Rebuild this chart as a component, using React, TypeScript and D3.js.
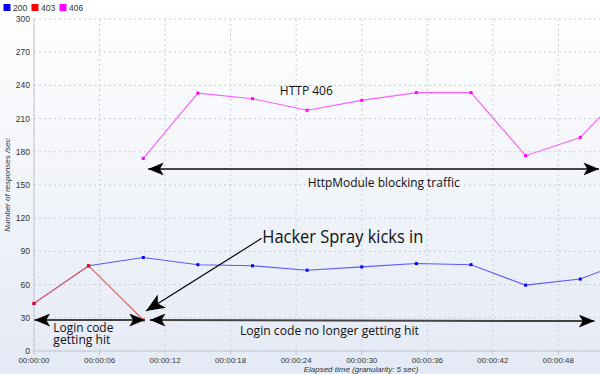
import React from 'react';
import * as d3 from 'd3';

// ---- data ----
const times = [0, 5, 10, 15, 20, 25, 30, 35, 40, 45, 50, 55];
const s200: (number | null)[] = [43, 77, 84.5, 78, 77, 73, 76, 79, 78, 59.5, 65, 84];
const s403: (number | null)[] = [43, 77, 28, null, null, null, null, null, null, null, null, null];
const s406: (number | null)[] = [null, null, 174, 233, 228, 217.5, 226.5, 233.5, 233.5, 176.5, 193, 244];
const seriesNames = ['200', '403', '406'];
const seriesLineColors = ['#5a5aff', '#f25c5c', '#ff5cff'];
const seriesPointColors = ['#0000ff', '#ff0000', '#ff00ff'];
const yTicks = [0, 30, 60, 90, 120, 150, 180, 210, 240, 270, 300];
const xTicks = [0, 6, 12, 18, 24, 30, 36, 42, 48];
const fmtTime = (s: number) => `00:00:${String(s).padStart(2, '0')}`;

const W = 600, H = 374;
const left = 34, right = 600, top = 19, bottom = 351;

export default function App() {
  const x = d3.scaleLinear().domain([0, (right - left) / 10.925]).range([left, right]);
  const y = d3.scaleLinear().domain([0, 300]).range([bottom, top]);
  const allSeries = [s200, s403, s406];

  const line = d3.line<[number, number | null]>()
    .defined(d => d[1] != null)
    .x(d => x(d[0]))
    .y(d => y(d[1] as number));

  const font = 'Liberation Sans, Arial, sans-serif';
  const annFont = 'Open Sans, Noto Sans, sans-serif';

  const arrowLine = (x1: number, y1: number, x2: number, y2: number, startHead: boolean, endHead: boolean, key: string) => (
    <line key={key} x1={x1} y1={y1} x2={x2} y2={y2} stroke="#444" strokeWidth={2}
      markerStart={startHead ? 'url(#ahStart)' : undefined}
      markerEnd={endHead ? 'url(#ahEnd)' : undefined} />
  );

  return (
    <div style={{ position: 'absolute', left: 0, top: 0 }}>
      <svg width={W} height={H} style={{ display: 'block' }}>
        <defs>
          <linearGradient id="bg" x1="0" y1="0" x2="0" y2="1">
            <stop offset="0" stopColor="#ffffff" />
            <stop offset="1" stopColor="#e4eaf5" />
          </linearGradient>
          <clipPath id="plot">
            <rect x={left - 2} y={top - 4} width={right - left + 2} height={bottom - top + 8} />
          </clipPath>
          <marker id="ahEnd" viewBox="0 0 12 10" refX="12" refY="5" markerWidth="8" markerHeight="6.5" orient="auto" markerUnits="strokeWidth">
            <path d="M0,0 L12,5 L0,10 L3,5 Z" fill="#000" />
          </marker>
          <marker id="ahStart" viewBox="0 0 12 10" refX="0" refY="5" markerWidth="8" markerHeight="6.5" orient="auto" markerUnits="strokeWidth">
            <path d="M12,0 L0,5 L12,10 L9,5 Z" fill="#000" />
          </marker>
          <marker id="ahThin" viewBox="0 0 12 10" refX="12" refY="5" markerWidth="16" markerHeight="13" orient="auto" markerUnits="strokeWidth">
            <path d="M0,0 L12,5 L0,10 L3,5 Z" fill="#000" />
          </marker>
        </defs>
        <rect x={0} y={0} width={W} height={H} fill="url(#bg)" />

        {/* grid */}
        {yTicks.map(t => (
          <line key={'gy' + t} x1={left} x2={right} y1={y(t)} y2={y(t)} stroke="#c9ccd4" strokeDasharray="2,3" />
        ))}
        {xTicks.map(t => (
          <line key={'gx' + t} x1={x(t)} x2={x(t)} y1={top} y2={bottom} stroke="#c9ccd4" strokeDasharray="2,3" />
        ))}

        {/* axes */}
        <line x1={left} x2={left} y1={top} y2={bottom} stroke="#c4c8d2" />
        <line x1={left} x2={right} y1={bottom} y2={bottom} stroke="#c4c8d2" />
        {xTicks.map(t => (
          <line key={'tx' + t} x1={x(t)} x2={x(t)} y1={bottom} y2={bottom + 4} stroke="#c4c8d2" />
        ))}
        {yTicks.map(t => (
          <text key={'ly' + t} x={left - 4} y={y(t) + 3} textAnchor="end" fontFamily={font} fontSize={8.5} fill="#333">{t}</text>
        ))}
        {xTicks.map(t => (
          <text key={'lx' + t} x={x(t)} y={bottom + 12} textAnchor="middle" fontFamily={font} fontSize={8} fill="#333">{fmtTime(t)}</text>
        ))}
        <text transform={`translate(10,${(top + bottom) / 2}) rotate(-90)`} textAnchor="middle" fontFamily={font} fontSize={8} fontStyle="italic" fill="#333">Number of responses /sec</text>
        <text x={361} y={372} textAnchor="middle" fontFamily={font} fontSize={8} fontStyle="italic" fill="#333">Elapsed time (granularity: 5 sec)</text>

        {/* series */}
        <g clipPath="url(#plot)">
          {allSeries.map((s, i) => (
            <path key={'s' + i} d={line(times.map((t, j) => [t, s[j]] as [number, number | null])) || ''}
              fill="none" stroke={seriesLineColors[i]} strokeWidth={1.1} />
          ))}
          {allSeries.map((s, i) => times.map((t, j) => s[j] == null ? null : (
            <rect key={`p${i}-${j}`} x={x(t) - 1.5} y={y(s[j] as number) - 1.5} width={3} height={3} fill={seriesPointColors[i]} />
          )))}
        </g>

        {/* legend */}
        {seriesNames.map((n, i) => (
          <g key={'lg' + n} transform={`translate(${3.5 + i * 28},4)`}>
            <rect x={0} y={0} width={7} height={7} fill={seriesPointColors[i]} />
            <text x={9.5} y={7} fontFamily={font} fontSize={8.5} fill="#333">{n}</text>
          </g>
        ))}

        {/* annotations */}
        <text x={x(22.5)} y={y(231.3)} fontFamily={annFont} fontSize={13} fill="#111" textLength={53} lengthAdjust="spacingAndGlyphs">HTTP 406</text>
        {arrowLine(x(10.45), y(164.5), right - 1, y(164.5), true, true, 'a1')}
        <text x={x(25.05)} y={y(148.2)} fontFamily={annFont} fontSize={13} fill="#111" textLength={152} lengthAdjust="spacingAndGlyphs">HttpModule blocking traffic</text>

        <text x={x(20.9)} y={y(98)} fontFamily={annFont} fontSize={18} fill="#111" textLength={161} lengthAdjust="spacingAndGlyphs">Hacker Spray kicks in</text>
        <line x1={x(20.84)} y1={y(101.8)} x2={x(10.25)} y2={y(36.1)} stroke="#000" strokeWidth={1.2} markerEnd="url(#ahThin)" />

        {arrowLine(x(0) + 0.5, y(28), x(10.15), y(28), true, true, 'a2')}
        {arrowLine(x(10.6), y(28), x(51.3), y(27), true, true, 'a3')}
        <text x={x(1.77)} y={y(17.4)} fontFamily={annFont} fontSize={12} fill="#111" textLength={60} lengthAdjust="spacingAndGlyphs">Login code</text>
        <text x={x(1.77)} y={y(6.2)} fontFamily={annFont} fontSize={12} fill="#111" textLength={57} lengthAdjust="spacingAndGlyphs">getting hit</text>
        <text x={x(18.85)} y={y(14.5)} fontFamily={annFont} fontSize={13} fill="#111" textLength={179} lengthAdjust="spacingAndGlyphs">Login code no longer getting hit</text>
      </svg>
    </div>
  );
}
